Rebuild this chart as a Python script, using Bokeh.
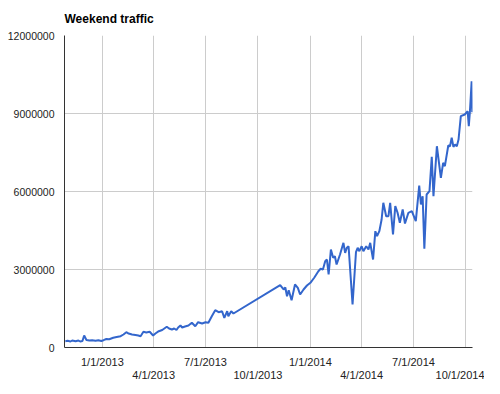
import pandas as pd
from bokeh.plotting import figure
from bokeh.models import Range1d, FixedTicker, DatetimeAxis, BasicTickFormatter, ColumnDataSource
from bokeh.embed import file_html
from bokeh.resources import INLINE

title_text = "Weekend traffic"

dates = [
    "2012-10-28", "2012-11-01", "2012-11-06", "2012-11-09", "2012-11-15", "2012-11-20",
    "2012-11-23", "2012-11-27", "2012-11-30", "2012-12-04", "2012-12-09", "2012-12-14",
    "2012-12-20", "2012-12-25", "2012-12-30", "2013-01-03", "2013-01-08", "2013-01-13",
    "2013-01-20", "2013-01-26", "2013-02-02", "2013-02-07", "2013-02-12", "2013-02-16",
    "2013-02-22", "2013-02-28", "2013-03-05", "2013-03-09", "2013-03-14", "2013-03-19",
    "2013-03-25", "2013-03-31", "2013-04-04", "2013-04-10", "2013-04-16", "2013-04-24",
    "2013-04-28", "2013-05-03", "2013-05-07", "2013-05-11", "2013-05-14", "2013-05-18",
    "2013-05-21", "2013-05-26", "2013-06-01", "2013-06-07", "2013-06-13", "2013-06-18",
    "2013-06-25", "2013-07-01", "2013-07-06", "2013-07-12", "2013-07-18", "2013-07-24",
    "2013-07-30", "2013-08-03", "2013-08-08", "2013-08-10", "2013-08-15", "2013-08-19",
    "2013-11-09", "2013-11-15", "2013-11-18", "2013-11-21", "2013-11-24", "2013-11-29",
    "2013-12-05", "2013-12-10", "2013-12-14", "2013-12-20", "2013-12-26", "2014-01-01",
    "2014-01-08", "2014-01-15", "2014-01-19", "2014-01-23", "2014-01-27", "2014-01-30",
    "2014-02-02", "2014-02-06", "2014-02-10", "2014-02-13", "2014-02-16", "2014-02-22",
    "2014-02-28", "2014-03-03", "2014-03-06", "2014-03-09", "2014-03-16", "2014-03-22",
    "2014-03-25", "2014-03-28", "2014-04-01", "2014-04-04", "2014-04-09", "2014-04-13",
    "2014-04-16", "2014-04-21", "2014-04-25", "2014-04-28", "2014-05-02", "2014-05-06",
    "2014-05-09", "2014-05-14", "2014-05-18", "2014-05-21", "2014-05-26", "2014-05-30",
    "2014-06-03", "2014-06-07", "2014-06-12", "2014-06-16", "2014-06-22", "2014-06-28",
    "2014-07-05", "2014-07-11", "2014-07-14", "2014-07-17", "2014-07-20", "2014-07-24",
    "2014-07-29", "2014-08-02", "2014-08-05", "2014-08-11", "2014-08-18", "2014-08-22",
    "2014-08-25", "2014-08-31", "2014-09-03", "2014-09-06", "2014-09-09", "2014-09-12",
    "2014-09-15", "2014-09-18", "2014-09-22", "2014-09-29", "2014-10-04", "2014-10-06",
    "2014-10-08", "2014-10-11", "2014-10-12",
]

traffic = [
    242000, 258000, 231000, 269000, 238000, 269000,
    231000, 250000, 462000, 288000, 269000, 281000,
    262000, 277000, 250000, 281000, 327000, 319000,
    373000, 404000, 435000, 500000, 588000, 538000,
    500000, 481000, 462000, 435000, 604000, 577000,
    604000, 462000, 538000, 627000, 673000, 796000,
    731000, 692000, 731000, 673000, 769000, 846000,
    769000, 808000, 846000, 950000, 819000, 973000,
    923000, 973000, 950000, 1204000, 1435000, 1358000,
    1396000, 1142000, 1396000, 1204000, 1396000, 1308000,
    2396000, 2231000, 2308000, 1973000, 2204000, 1819000,
    2423000, 2296000, 2038000, 2231000, 2385000, 2488000,
    2692000, 2935000, 3027000, 3000000, 3319000, 3385000,
    2808000, 3769000, 3450000, 3512000, 3192000, 3577000,
    4027000, 3642000, 3835000, 3896000, 1654000, 3665000,
    3835000, 3704000, 3896000, 3704000, 3896000, 3769000,
    4027000, 3385000, 4473000, 4281000, 4473000, 4923000,
    5565000, 5050000, 5050000, 5565000, 4346000, 5435000,
    5181000, 4796000, 5308000, 4769000, 5181000, 5242000,
    4858000, 6231000, 5500000, 5819000, 3796000, 5885000,
    6012000, 7335000, 5819000, 7742000, 6527000, 7104000,
    6973000, 7769000, 7742000, 8065000, 7719000, 7808000,
    7742000, 8000000, 8896000, 8962000, 9088000, 8512000,
    9088000, 10242000, 9050000,
]

x_labels_row1 = ["1/1/2013", "7/1/2013", "1/1/2014", "7/1/2014"]
x_labels_row2 = ["4/1/2013", "10/1/2013", "4/1/2014", "10/1/2014"]
y_ticks = [0, 3000000, 6000000, 9000000, 12000000]

FONT = "Liberation Sans"
LINE_COLOR = "#3366cc"
GRID_COLOR = "#cccccc"
TEXT_COLOR = "#222222"


def to_ms(labels):
    return [int(pd.Timestamp(pd.to_datetime(s, format="%m/%d/%Y")).value // 10**6) for s in labels]


row1_ms = to_ms(x_labels_row1)
row2_ms = to_ms(x_labels_row2)

src = ColumnDataSource(dict(x=pd.to_datetime(dates), y=traffic))

p = figure(
    x_axis_type="datetime",
    frame_width=408, frame_height=312,
    min_border_left=64, min_border_right=12, min_border_top=34, min_border_bottom=30,
    output_backend="svg", toolbar_location=None, title=title_text,
    x_range=Range1d(start=pd.Timestamp("2012-10-26 12:00"), end=pd.Timestamp("2014-10-12 12:00")),
    y_range=Range1d(start=0, end=12000000),
)
p.outline_line_color = None
p.background_fill_color = "white"
p.border_fill_color = "white"

p.title.text_font = FONT
p.title.text_font_size = "12px"
p.title.text_font_style = "bold"
p.title.text_color = "#000000"
p.title.align = "left"
p.title.vertical_align = "bottom"
p.title.standoff = 19

p.line("x", "y", source=src, line_color=LINE_COLOR, line_width=2)

# grids
p.xgrid[0].ticker = FixedTicker(ticks=sorted(row1_ms + row2_ms))
p.xgrid[0].grid_line_color = GRID_COLOR
p.ygrid[0].ticker = FixedTicker(ticks=y_ticks)
p.ygrid[0].grid_line_color = GRID_COLOR


def style_axis(ax):
    ax.major_tick_line_color = None
    ax.minor_tick_line_color = None
    ax.major_tick_out = 0
    ax.major_tick_in = 0
    ax.minor_tick_out = 0
    ax.minor_tick_in = 0
    ax.major_label_text_font = FONT
    ax.major_label_text_font_size = "11px"
    ax.major_label_text_color = TEXT_COLOR
    ax.axis_line_color = "#333333"


xa = p.xaxis[0]
style_axis(xa)
xa.ticker = FixedTicker(ticks=row1_ms)
xa.major_label_overrides = {ms: lab for ms, lab in zip(row1_ms, x_labels_row1)}
xa.major_label_standoff = 8

xa2 = DatetimeAxis()
style_axis(xa2)
xa2.ticker = FixedTicker(ticks=row2_ms)
xa2.major_label_overrides = {ms: lab for ms, lab in zip(row2_ms, x_labels_row2)}
xa2.axis_line_color = None
xa2.major_label_standoff = -2
p.add_layout(xa2, "below")

ya = p.yaxis[0]
style_axis(ya)
ya.ticker = FixedTicker(ticks=y_ticks)
ya.formatter = BasicTickFormatter(use_scientific=False)
ya.major_label_text_font_size = "10.5px"
ya.major_label_standoff = 10

open("out.html", "w").write(file_html(p, INLINE))
